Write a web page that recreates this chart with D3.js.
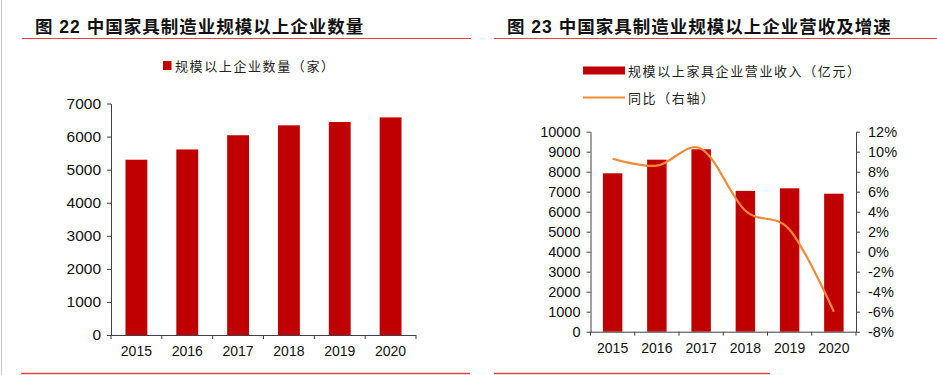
<!DOCTYPE html>
<html>
<head>
<meta charset="utf-8">
<script src="https://cdn.jsdelivr.net/npm/d3@7"></script>
<style>
  body { margin: 0; background: #fff; }
  text { font-family: "Liberation Sans", Arial, "Noto Sans CJK SC", sans-serif; }
  .cn { font-family: "Noto Sans CJK SC", sans-serif; }
</style>
</head>
<body>
<div id="chart"></div>
<script>
// chart data
const years = ["2015", "2016", "2017", "2018", "2019", "2020"];
const companyCount = [5300, 5610, 6040, 6340, 6440, 6580];
const revenue = [7920, 8600, 9120, 7040, 7170, 6900];
const revenueYoY = [9.3, 8.6, 10.3, 4.1, 2.2, -6.0];
const countTicks = [0, 1000, 2000, 3000, 4000, 5000, 6000, 7000];
const revenueTicks = [0, 1000, 2000, 3000, 4000, 5000, 6000, 7000, 8000, 9000, 10000];
const yoyTicks = [-8, -6, -4, -2, 0, 2, 4, 6, 8, 10, 12];

const titleLeft = "图 22 中国家具制造业规模以上企业数量";
const titleRight = "图 23 中国家具制造业规模以上企业营收及增速";
const legendCount = "规模以上企业数量（家）";
const legendRevenue = "规模以上家具企业营业收入（亿元）";
const legendYoY = "同比（右轴）";

const BAR = "#c00000";
const LINE = "#f0893a";
const AXIS = "#404040";
const RULE = "#e8413f";

const svg = d3.select("#chart").append("svg")
  .attr("width", 937).attr("height", 375);

// page frame bits
svg.append("line").attr("x1", 1.5).attr("x2", 1.5).attr("y1", 0).attr("y2", 375)
  .attr("stroke", "#c8c8c8");
[[22, 471], [494, 937]].forEach(([a, b]) => {
  svg.append("line").attr("x1", a).attr("x2", b).attr("y1", 38.5).attr("y2", 38.5)
    .attr("stroke", RULE).attr("stroke-width", 1.2);
});
[[21, 470], [494, 770]].forEach(([a, b]) => {
  svg.append("line").attr("x1", a).attr("x2", b).attr("y1", 373.5).attr("y2", 373.5)
    .attr("stroke", RULE).attr("stroke-width", 1.5);
});

// titles
[[35, titleLeft], [507, titleRight]].forEach(([tx, t]) => {
  svg.append("text").attr("x", tx).attr("y", 33).text(t)
    .style("font-size", "17.5px").style("font-weight", 700)
    .style("letter-spacing", "1px").attr("fill", "#111");
});

// draws band ticks at category boundaries
function bandTicks(g, x, y0) {
  const edges = x.domain().map(d => x(d) - x.step() * x.paddingOuter());
  edges.push(x.range()[1]);
  g.selectAll(".bt").data(edges).enter().append("line")
    .attr("x1", d => d).attr("x2", d => d)
    .attr("y1", y0).attr("y2", y0 + 4)
    .attr("stroke", AXIS);
}

function styleAxis(g, size) {
  g.select(".domain").attr("stroke", AXIS);
  g.selectAll(".tick line").attr("stroke", AXIS);
  g.selectAll(".tick text").attr("fill", "#111").style("font-size", size)
    .style("font-family", "'Liberation Sans', Arial, sans-serif");
}

const plain = d3.format("d");

// ---- left chart: company count
(function () {
  const left = 111, right = 416, top = 103.5, bottom = 335;
  const x = d3.scaleBand().domain(years).range([left, right]).paddingInner(0.57).paddingOuter(0.285);
  const y = d3.scaleLinear().domain([0, 7000]).range([bottom, top]);

  svg.selectAll(".barL").data(companyCount).enter().append("rect")
    .attr("x", (d, i) => x(years[i]))
    .attr("y", d => y(d))
    .attr("width", x.bandwidth())
    .attr("height", d => bottom - y(d))
    .attr("fill", BAR);

  const ya = svg.append("g").attr("transform", `translate(${left},0)`)
    .call(d3.axisLeft(y).tickValues(countTicks).tickFormat(plain)
      .tickSize(4).tickSizeOuter(0).tickPadding(6));
  styleAxis(ya, "15.5px");

  const xa = svg.append("g").attr("transform", `translate(0,${bottom})`)
    .call(d3.axisBottom(x).tickSize(0).tickPadding(11));
  styleAxis(xa, "14px");
  xa.select(".domain").attr("d", `M${left},0.5H${right}`);
  bandTicks(svg.append("g"), x, bottom);

  // legend
  svg.append("rect").attr("x", 163).attr("y", 61).attr("width", 8.5).attr("height", 9).attr("fill", BAR);
  svg.append("text").attr("class", "cn").attr("x", 175).attr("y", 70.5).text(legendCount)
    .style("font-size", "13px").style("letter-spacing", "1.6px").attr("fill", "#222");
})();

// ---- right chart: revenue + yoy
(function () {
  const left = 590.5, right = 856, top = 131.7, bottom = 331.7;
  const x = d3.scaleBand().domain(years).range([left, right]).paddingInner(0.56).paddingOuter(0.28);
  const y = d3.scaleLinear().domain([0, 10000]).range([bottom, top]);
  const y2 = d3.scaleLinear().domain([-8, 12]).range([bottom, top]);

  svg.selectAll(".barR").data(revenue).enter().append("rect")
    .attr("x", (d, i) => x(years[i]))
    .attr("y", d => y(d))
    .attr("width", x.bandwidth())
    .attr("height", d => bottom - y(d))
    .attr("fill", BAR);

  const line = d3.line()
    .x((d, i) => x(years[i]) + x.bandwidth() / 2)
    .y(d => y2(d))
    .curve(d3.curveCardinal.tension(0));
  svg.append("path").datum(revenueYoY)
    .attr("d", line).attr("fill", "none")
    .attr("stroke", LINE).attr("stroke-width", 2.2);

  const ya = svg.append("g").attr("transform", `translate(${left},0)`)
    .call(d3.axisLeft(y).tickValues(revenueTicks).tickFormat(plain)
      .tickSize(4).tickSizeOuter(0).tickPadding(6));
  styleAxis(ya, "14.5px");

  const ya2 = svg.append("g").attr("transform", `translate(${right},0)`)
    .call(d3.axisRight(y2).tickValues(yoyTicks).tickSize(4).tickSizeOuter(0).tickPadding(8)
      .tickFormat(d => d + "%"));
  styleAxis(ya2, "14.5px");

  const xa = svg.append("g").attr("transform", `translate(0,${bottom})`)
    .call(d3.axisBottom(x).tickSize(0).tickPadding(11));
  styleAxis(xa, "14px");
  xa.select(".domain").attr("d", `M${left},0.5H${right}`);
  bandTicks(svg.append("g"), x, bottom);

  // legend
  svg.append("rect").attr("x", 583).attr("y", 66.5).attr("width", 42).attr("height", 8).attr("fill", BAR);
  svg.append("text").attr("class", "cn").attr("x", 628).attr("y", 75.5).text(legendRevenue)
    .style("font-size", "13px").style("letter-spacing", "1.6px").attr("fill", "#222");
  svg.append("line").attr("x1", 583).attr("x2", 625).attr("y1", 97.5).attr("y2", 97.5)
    .attr("stroke", LINE).attr("stroke-width", 2);
  svg.append("text").attr("class", "cn").attr("x", 628).attr("y", 102.5).text(legendYoY)
    .style("font-size", "13px").style("letter-spacing", "1.6px").attr("fill", "#222");
})();
</script>
</body>
</html>
